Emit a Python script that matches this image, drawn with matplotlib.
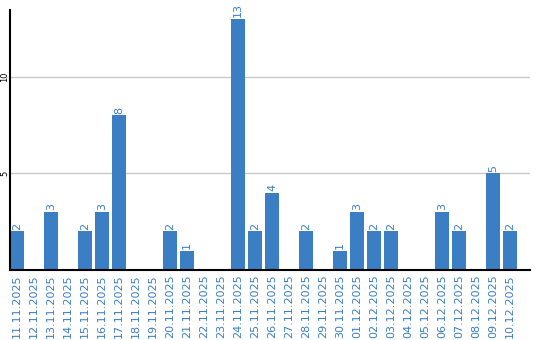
import matplotlib
matplotlib.use("Agg")
import matplotlib.pyplot as plt

dates = ["11.11.2025", "12.11.2025", "13.11.2025", "14.11.2025", "15.11.2025",
         "16.11.2025", "17.11.2025", "18.11.2025", "19.11.2025", "20.11.2025",
         "21.11.2025", "22.11.2025", "23.11.2025", "24.11.2025", "25.11.2025",
         "26.11.2025", "27.11.2025", "28.11.2025", "29.11.2025", "30.11.2025",
         "01.12.2025", "02.12.2025", "03.12.2025", "04.12.2025", "05.12.2025",
         "06.12.2025", "07.12.2025", "08.12.2025", "09.12.2025", "10.12.2025"]
values = [2, 0, 3, 0, 2, 3, 8, 0, 0, 2, 1, 0, 0, 13, 2, 4, 0, 2, 0, 1,
          3, 2, 2, 0, 0, 3, 2, 0, 5, 2]
yticks = [5, 10]

blue = "#3b7ec3"
fig = plt.figure(figsize=(5.4, 3.4), dpi=100)
ax = fig.add_axes([10/540, 70/340, 520/540, 260/340])
x = list(range(len(dates)))
ax.bar(x, values, width=0.82, color=blue, zorder=2)
for xi, v in zip(x, values):
    if v > 0:
        ax.text(xi, v + 0.08, str(v), rotation=90, ha="center", va="bottom",
                color=blue, fontsize=8)
ax.set_xlim(-0.41, 30.18)
ax.set_ylim(0, 13.45)
ax.set_xticks(x)
ax.set_xticklabels(dates, rotation=90, color=blue, fontsize=8)
ax.set_yticks(yticks)
ax.set_yticklabels([str(t) for t in yticks], rotation=90, fontsize=6,
                   va="center", ha="center")
ax.tick_params(axis="both", length=0)
ax.tick_params(axis="y", pad=3.6)
ax.tick_params(axis="x", pad=3)
ax.grid(axis="y", color="#c8c8c8", linewidth=1, zorder=0)
for s in ["top", "right"]:
    ax.spines[s].set_visible(False)
ax.spines["left"].set_linewidth(1.5)
ax.spines["bottom"].set_linewidth(1.5)
fig.savefig("out.png", dpi=100)
